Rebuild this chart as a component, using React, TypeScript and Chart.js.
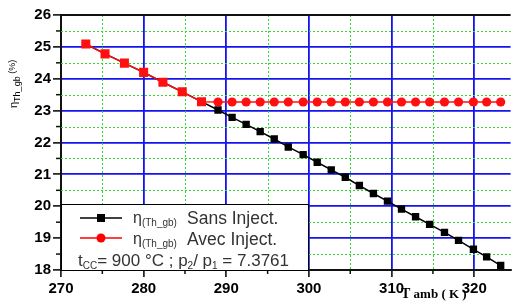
import React, { useEffect, useRef } from 'react';
import { Chart, registerables } from 'chart.js';

Chart.register(...registerables);

// Ambient temperature (K)
const tAmb = [
  273.0, 275.33, 277.67, 280.0, 282.33, 284.67, 287.0,
  289.0, 290.7, 292.4, 294.1, 295.8, 297.5, 299.3, 301.0, 302.7, 304.4,
  306.1, 307.8, 309.5, 311.2, 312.9, 314.6, 316.4, 318.1, 319.9, 321.5, 323.2,
];
// Efficiency without injection (%)
const etaSans = [
  25.09, 24.78, 24.49, 24.2, 23.89, 23.59, 23.28,
  23.02, 22.79, 22.57, 22.34, 22.11, 21.86, 21.62, 21.38, 21.14, 20.91,
  20.65, 20.4, 20.16, 19.91, 19.67, 19.43, 19.18, 18.93, 18.65, 18.41, 18.14,
];
// Efficiency with injection (%)
const etaAvec = [
  25.09, 24.78, 24.49, 24.2, 23.89, 23.59, 23.28,
  23.27, 23.27, 23.27, 23.27, 23.27, 23.27, 23.27, 23.27, 23.27, 23.27,
  23.27, 23.27, 23.27, 23.27, 23.27, 23.27, 23.27, 23.27, 23.27, 23.27, 23.27,
];
const squarePointsAvec = 7; // first points of the "Avec" series drawn as squares

const yMin = 18;
const yMax = 26;
const xMin = 270;
const xMax = 324.4;
const minorYTicks = [18.5, 19.5, 20.5, 21.5, 22.5, 23.5, 24.5, 25.5];
const minorXTicks = [275, 285, 295, 305, 315, 325];

const SANS = '"Liberation Sans", Arial, sans-serif';
const SERIF = '"Liberation Serif", "Times New Roman", serif';

function drawRich(ctx: CanvasRenderingContext2D, x: number, y: number, parts: [string, number, number][], family: string, weight = '') {
  let cx = x;
  for (const [t, size, off] of parts) {
    ctx.font = `${weight} ${size}px ${family}`.trim();
    ctx.fillText(t, cx, y + off);
    cx += ctx.measureText(t).width;
  }
  return cx;
}

const decor = {
  id: 'decor',
  beforeDatasetsDraw(chart: any) {
    const { ctx, chartArea: a, scales } = chart;
    const x = scales.x;
    const y = scales.y;
    ctx.save();
    ctx.strokeStyle = '#2fd82f';
    ctx.lineWidth = 1;
    ctx.setLineDash([2, 2]);
    for (const v of minorYTicks) {
      const py = Math.round(y.getPixelForValue(v)) + 0.5;
      ctx.beginPath();
      ctx.moveTo(a.left, py);
      ctx.lineTo(a.right, py);
      ctx.stroke();
    }
    for (const v of minorXTicks) {
      const px = Math.round(x.getPixelForValue(v)) + 0.5;
      if (px > a.right) continue;
      ctx.beginPath();
      ctx.moveTo(px, a.top);
      ctx.lineTo(px, a.bottom);
      ctx.stroke();
    }
    ctx.restore();
  },
  afterDatasetsDraw(chart: any) {
    const { ctx, chartArea: a, scales } = chart;
    const x = scales.x;
    const y = scales.y;
    ctx.save();
    ctx.strokeStyle = '#111';
    ctx.lineWidth = 2;
    ctx.beginPath();
    ctx.moveTo(a.left - 1, a.top);
    ctx.lineTo(a.right, a.top);
    ctx.stroke();
    ctx.lineWidth = 1.5;
    for (const v of minorYTicks) {
      const py = y.getPixelForValue(v);
      ctx.beginPath();
      ctx.moveTo(a.left - 5, py);
      ctx.lineTo(a.left, py);
      ctx.stroke();
    }
    for (const v of minorXTicks) {
      const px = x.getPixelForValue(v);
      if (px > a.right) continue;
      ctx.beginPath();
      ctx.moveTo(px, a.bottom);
      ctx.lineTo(px, a.bottom + 4);
      ctx.stroke();
    }

    // legend box
    const bx = a.left;
    const by = 204;
    const bw = 308 - a.left;
    const bh = a.bottom - by;
    ctx.fillStyle = '#fff';
    ctx.fillRect(bx, by, bw, bh);
    ctx.strokeStyle = '#000';
    ctx.lineWidth = 1;
    ctx.strokeRect(bx + 0.5, by + 0.5, bw, bh);

    ctx.lineWidth = 1.5;
    ctx.strokeStyle = '#000';
    ctx.beginPath();
    ctx.moveTo(80, 218);
    ctx.lineTo(122, 218);
    ctx.stroke();
    ctx.fillStyle = '#000';
    ctx.fillRect(97, 214, 8, 8);
    ctx.strokeStyle = '#ff0000';
    ctx.beginPath();
    ctx.moveTo(80, 238);
    ctx.lineTo(122, 238);
    ctx.stroke();
    ctx.fillStyle = '#ff0000';
    ctx.beginPath();
    ctx.arc(101, 238, 4.5, 0, Math.PI * 2);
    ctx.fill();

    ctx.fillStyle = '#333';
    ctx.textBaseline = 'alphabetic';
    ctx.textAlign = 'left';
    drawRich(ctx, 133, 223, [['η', 16, 0], ['(Th_gb)', 10, 3]], SANS);
    ctx.font = `17.5px ${SANS}`;
    ctx.fillText('Sans Inject.', 187, 224);
    drawRich(ctx, 133, 244, [['η', 16, 0], ['(Th_gb)', 10, 3]], SANS);
    ctx.font = `17.5px ${SANS}`;
    ctx.fillText('Avec Inject.', 187, 245);
    drawRich(
      ctx,
      78,
      266,
      [
        ['t', 17, 0],
        ['CC', 10, 3],
        ['= 900 °C ; p', 17, 0],
        ['2', 10, 3],
        ['/ p', 17, 0],
        ['1', 10, 3],
        [' = 7.3761', 17, 0],
      ],
      SANS,
    );

    // x title
    ctx.fillStyle = '#000';
    drawRich(ctx, 401, 298, [['T', 14, 0], [' amb ( K )', 13, 0]], SERIF, 'bold');

    // y title (rotated)
    ctx.save();
    ctx.translate(17, 108);
    ctx.rotate(-Math.PI / 2);
    ctx.fillStyle = '#000';
    drawRich(ctx, 0, 0, [['η', 11, 0], ['Th_gb', 9, 3], [' (%)', 9, -2]], SANS);
    ctx.restore();

    ctx.restore();
  },
};

export default function App() {
  const ref = useRef<HTMLCanvasElement | null>(null);

  useEffect(() => {
    if (!ref.current) return;
    const blue = '#1414ee';
    const chart = new Chart(ref.current, {
      type: 'scatter',
      data: {
        datasets: [
          {
            label: 'η(Th_gb) Avec Inject.',
            data: tAmb.map((t, i) => ({ x: t, y: etaAvec[i] })),
            showLine: true,
            borderColor: '#ff1010',
            backgroundColor: '#ff1010',
            borderWidth: 1.5,
            pointStyle: (c: any) => (c.dataIndex < squarePointsAvec ? 'rect' : 'circle'),
            pointRadius: (c: any) => (c.dataIndex < squarePointsAvec ? 6.4 : 4.6),
            pointBorderWidth: 0,
          },
          {
            label: 'η(Th_gb) Sans Inject.',
            data: tAmb.map((t, i) => ({ x: t, y: etaSans[i] })),
            showLine: true,
            borderColor: '#000',
            backgroundColor: '#000',
            borderWidth: 1.5,
            pointStyle: 'rect',
            pointRadius: 5.2,
            pointBorderWidth: 0,
          },
        ],
      },
      options: {
        animation: false,
        responsive: false,
        maintainAspectRatio: false,
        layout: { padding: { top: 15, right: 0, left: 0, bottom: 0 } },
        plugins: {
          legend: { display: false },
          tooltip: { enabled: false },
          title: { display: false },
        },
        scales: {
          x: {
            type: 'linear',
            min: xMin,
            max: xMax,
            afterFit: (s: any) => {
              s.height = 32;
            },
            ticks: {
              stepSize: 10,
              includeBounds: false,
              color: '#000',
              padding: 3,
              font: { family: SANS, size: 15, weight: 'bold' },
              callback: (v: any) => String(v),
            },
            grid: {
              color: (c: any) => (c.tick && c.tick.value === xMin ? 'rgba(0,0,0,0)' : blue),
              lineWidth: 1.8,
              tickColor: '#000',
              tickLength: 7,
              tickWidth: 1.5,
            },
            border: { color: '#111', width: 2 },
          },
          y: {
            type: 'linear',
            min: yMin,
            max: yMax,
            afterFit: (s: any) => {
              s.width = 61;
            },
            ticks: {
              stepSize: 1,
              color: '#000',
              padding: 2,
              font: { family: SANS, size: 15, weight: 'bold' },
            },
            grid: {
              color: (c: any) =>
                c.tick && (c.tick.value === yMin || c.tick.value === yMax) ? 'rgba(0,0,0,0)' : blue,
              lineWidth: 1.8,
              tickColor: '#000',
              tickLength: 8,
              tickWidth: 1.5,
            },
            border: { color: '#111', width: 2 },
          },
        },
      },
      plugins: [decor],
    } as any);
    return () => chart.destroy();
  }, []);

  return (
    <div style={{ position: 'absolute', left: 0, top: 0, width: 517, height: 302, background: '#fff' }}>
      <canvas ref={ref} width={517} height={302} style={{ width: 517, height: 302, display: 'block' }} />
    </div>
  );
}
